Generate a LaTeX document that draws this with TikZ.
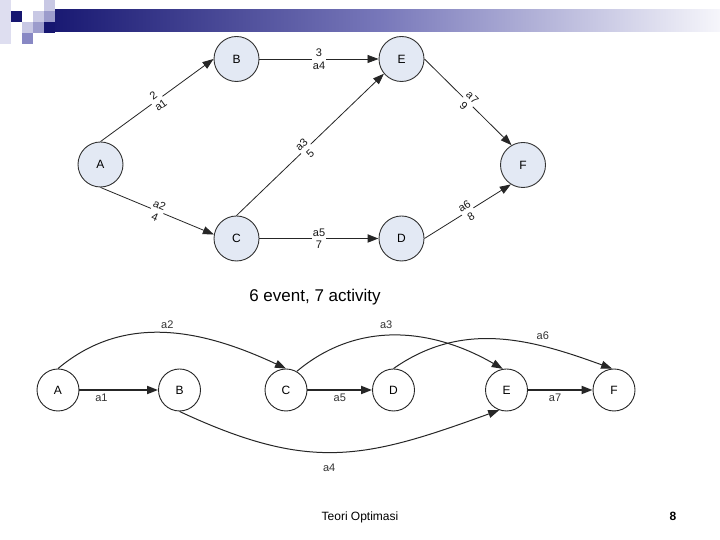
\documentclass[tikz,border=0pt]{standalone}
\usepackage{fontspec}
\setmainfont{Liberation Sans}
\usetikzlibrary{arrows.meta}
\definecolor{navy}{RGB}{22,22,112}
\definecolor{lav1}{RGB}{222,222,240}
\definecolor{lav2}{RGB}{200,200,228}
\definecolor{lav3}{RGB}{156,156,204}
\definecolor{lav4}{RGB}{136,136,196}
\definecolor{barmid}{RGB}{120,120,186}
\definecolor{barend}{RGB}{246,246,251}
\definecolor{nodefill}{RGB}{227,233,244}
\begin{document}
\begin{tikzpicture}[x=1pt,y=1pt,
  unode/.style={circle, draw=black!80, fill=nodefill, minimum size=45pt, inner sep=0pt, line width=0.9pt, font=\fontsize{12}{12}\selectfont},
  lnode/.style={circle, draw=black!85, fill=white, minimum size=42pt, inner sep=0pt, line width=0.9pt, font=\fontsize{12}{12}\selectfont},
  edge/.style={draw=black!85, line width=0.8pt, -{Triangle[length=11pt,width=8pt]}},
  thickedge/.style={edge, line width=1.8pt},
  curveedge/.style={edge, line width=1pt},
  elab/.style={fill=white, inner sep=0.5pt, align=center, sloped, text=black!90, font=\fontsize{11}{12.5}\selectfont},
  llab/.style={text=black!80, font=\fontsize{11}{11}\selectfont},
]
\path[use as bounding box, fill=white] (0,0) rectangle (720,540);
% decoration
\shade[left color=navy, right color=barend, middle color=barmid] (44,508) rectangle (720,530);
\fill[lav1] (0,496) rectangle (11,540);
\fill[navy] (11,518) rectangle (22,529);
\fill[lav2] (44,529) rectangle (55,540);
\fill[lav2] (33,518) rectangle (44,529);
\fill[lav3] (44,518) rectangle (55,529);
\fill[lav2] (22,507) rectangle (33,518);
\fill[lav3] (33,507) rectangle (44,518);
\fill[navy] (44,507) rectangle (55,518);
\fill[lav4] (22,496) rectangle (33,507);
% upper graph
\node[unode] (A) at (100.5,375.5) {A};
\node[unode] (B) at (236.5,481) {B};
\node[unode] (E) at (401.5,481) {E};
\node[unode] (C) at (236.5,301.5) {C};
\node[unode] (D) at (401.5,301.5) {D};
\node[unode] (F) at (523,375) {F};
\draw[edge] (A.north) -- node[elab]{2\\a1} (B.west);
\draw[edge] (A.south) -- node[elab]{a2\\4} (C.170);
\draw[edge] (B.east) -- node[elab]{3\\a4} (E.west);
\draw[edge] (C.north) -- node[elab, pos=0.47]{a3\\5} (E.220);
\draw[thickedge] (C.east) -- node[elab]{a5\\7} (D.west);
\draw[edge] (E.east) -- node[elab]{a7\\9} (F.120);
\draw[edge] (D.east) -- node[elab]{a6\\8} (F.238);
% title
\node (title) at (315,243) {\fontsize{17}{17}\selectfont 6 event, 7 activity};
% lower graph
\node[lnode] (a) at (58,150) {A};
\node[lnode] (b) at (179.5,150) {B};
\node[lnode] (c) at (286,150) {C};
\node[lnode] (d) at (393.5,150) {D};
\node[lnode] (e) at (506.5,150) {E};
\node[lnode] (f) at (614,150) {F};
\draw[thickedge] (a.east) -- node[llab, pos=0.28, below]{a1} (b.west);
\draw[thickedge] (c.east) -- node[llab, pos=0.5, below]{a5} (d.west);
\draw[thickedge] (e.east) -- node[llab, pos=0.42, below]{a7} (f.west);
\draw[curveedge] (a.north) to[out=40, in=155] node[llab, pos=0.5, above=1pt]{a2} (c.north);
\draw[curveedge] (c.60) to[out=40, in=150] node[llab, pos=0.45, above=3pt]{a3} (e.100);
\draw[curveedge] (d.north) to[out=35, in=160] node[llab, pos=0.7, above=3pt]{a6} (f.95);
\draw[curveedge] (b.south) to[out=-25, in=200, looseness=1.15] node[llab, pos=0.47, below=8pt]{a4} (e.250);
% footer
\node (footer) at (360,23) {\fontsize{12}{12}\selectfont Teori Optimasi};
\node (page) at (673,24) {\fontsize{12}{12}\selectfont\bfseries 8};
\end{tikzpicture}
\end{document}
